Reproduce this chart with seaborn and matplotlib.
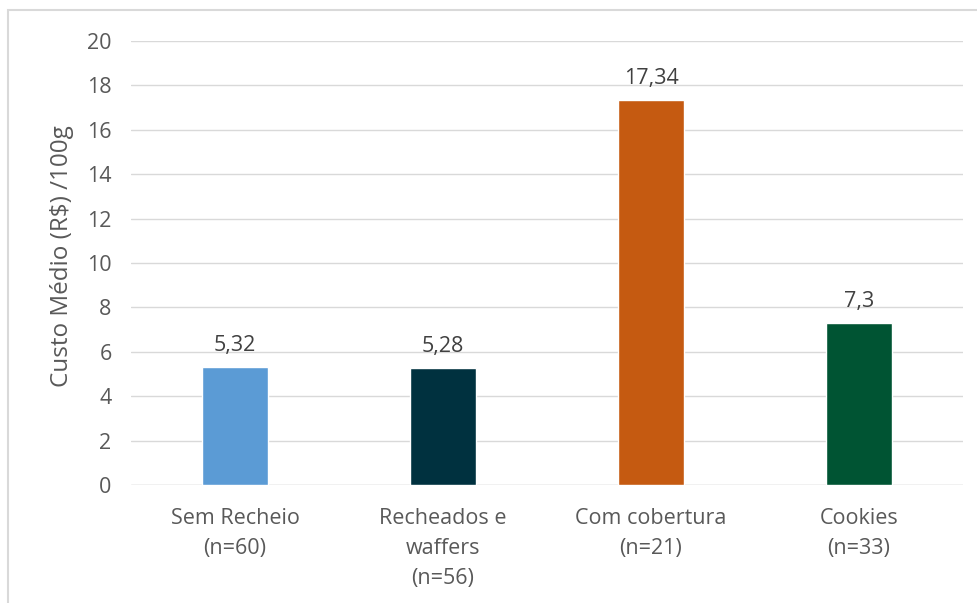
import matplotlib
matplotlib.use("Agg")
import matplotlib.pyplot as plt
import seaborn as sns
import pandas as pd
from matplotlib.patches import Rectangle

categories = ["Sem Recheio\n(n=60)", "Recheados e\nwaffers\n(n=56)", "Com cobertura\n(n=21)", "Cookies\n(n=33)"]
values = [5.32, 5.28, 17.34, 7.3]
value_labels = ["5,32", "5,28", "17,34", "7,3"]
colors = ["#5B9BD5", "#00313F", "#C55A11", "#005433"]
y_ticks = [0, 2, 4, 6, 8, 10, 12, 14, 16, 18, 20]

sns.set_theme(style="white")
plt.rcParams['font.family'] = ['Open Sans', 'DejaVu Sans']

df = pd.DataFrame({"cat": categories, "val": values})

fig = plt.figure(figsize=(9.77, 6.03), dpi=100)
ax = fig.add_axes([131/977, 1-485/603, (963-131)/977, (485-41)/603])

sns.barplot(data=df, x="cat", y="val", hue="cat", palette=colors, legend=False,
            width=0.313, ax=ax, saturation=1)

ax.set_ylim(0, 20)
ax.set_yticks(y_ticks)
ax.set_xlim(-0.5, 3.5)
ax.yaxis.grid(True, color="#D9D9D9", linewidth=1)
ax.set_axisbelow(True)
for s in ax.spines.values():
    s.set_visible(False)
ax.axhline(0, color="#D9D9D9", linewidth=1, zorder=0.5)

fs = 15.5
txt = "#595959"
ax.tick_params(axis="y", length=0, pad=14, labelsize=fs, labelcolor=txt)
ax.tick_params(axis="x", length=0, pad=16.5, labelsize=fs, labelcolor=txt)
for lbl in ax.get_xticklabels():
    lbl.set_linespacing(1.55)
ax.set_xlabel("")
ax.set_ylabel("Custo Médio (R$) /100g", fontsize=17.5, color=txt)
ax.yaxis.set_label_coords(-0.069, 0.515)

for i, (v, l) in enumerate(zip(values, value_labels)):
    ax.annotate(l, (i, v), xytext=(0, 8), textcoords="offset points",
                ha="center", va="bottom", fontsize=fs, color="#404040")

fig.patches.append(Rectangle((8/977, -0.1), 1.2, 1-10/603+0.1, transform=fig.transFigure,
                             fill=False, edgecolor="#D9D9D9", linewidth=1.5, zorder=-1))

fig.savefig("out.png", dpi=100)
